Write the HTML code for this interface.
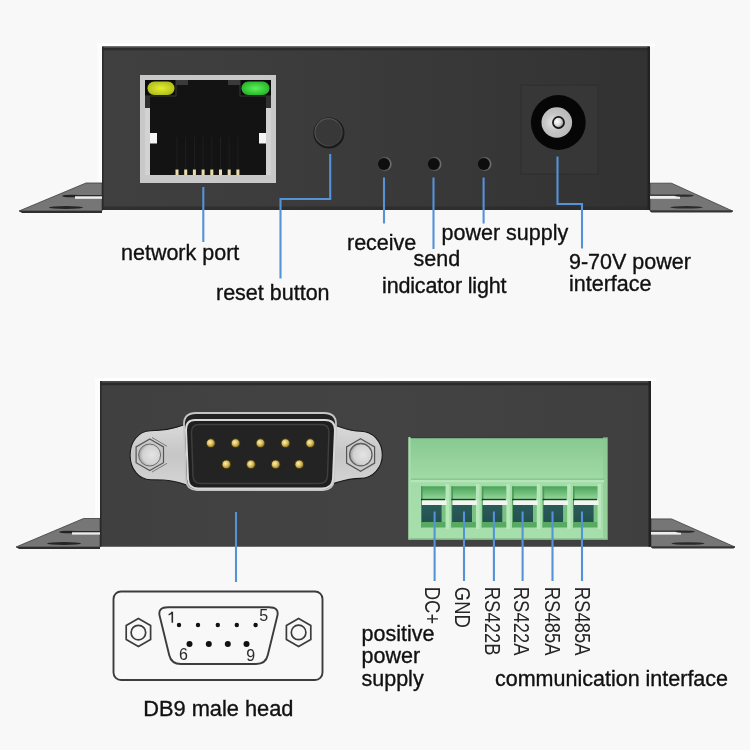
<!DOCTYPE html>
<html><head><meta charset="utf-8">
<style>
html,body{margin:0;padding:0;background:#f8f8f8;width:750px;height:750px;overflow:hidden}
svg{display:block;will-change:transform}
text{font-family:"Liberation Sans",sans-serif;fill:#111;font-size:21.5px;stroke:#111;stroke-width:0.35px}
</style></head><body>
<svg width="750" height="750" viewBox="0 0 750 750">
<defs>
<linearGradient id="boxg" x1="0" y1="0" x2="1" y2="0">
<stop offset="0" stop-color="#404040"/><stop offset="0.5" stop-color="#3a3a3a"/><stop offset="1" stop-color="#323232"/>
</linearGradient>
<linearGradient id="boxg2" x1="0" y1="0" x2="1" y2="0">
<stop offset="0" stop-color="#404040"/><stop offset="0.5" stop-color="#434343"/><stop offset="1" stop-color="#3f3f3f"/>
</linearGradient>
<radialGradient id="led-y" cx="0.5" cy="0.5" r="0.6">
<stop offset="0" stop-color="#e4ee30"/><stop offset="1" stop-color="#aab818"/>
</radialGradient>
<radialGradient id="led-g" cx="0.5" cy="0.5" r="0.6">
<stop offset="0" stop-color="#5ef05a"/><stop offset="1" stop-color="#1fae22"/>
</radialGradient>
<radialGradient id="pin" cx="0.4" cy="0.4" r="0.6">
<stop offset="0" stop-color="#fff2b8"/><stop offset="0.55" stop-color="#d8bb58"/><stop offset="1" stop-color="#8a7228"/>
</radialGradient>
<linearGradient id="silver" x1="0" y1="0" x2="0" y2="1">
<stop offset="0" stop-color="#dadada"/><stop offset="0.5" stop-color="#c6c6c6"/><stop offset="1" stop-color="#d4d4d4"/>
</linearGradient>
<linearGradient id="hole" x1="0" y1="0" x2="0" y2="1">
<stop offset="0" stop-color="#2a5c5a"/><stop offset="1" stop-color="#245050"/>
</linearGradient>
<linearGradient id="holetop" x1="0" y1="0" x2="0" y2="1">
<stop offset="0" stop-color="#4aa258"/><stop offset="1" stop-color="#92d699"/>
</linearGradient>
<linearGradient id="tbg" x1="0" y1="0" x2="0" y2="1">
<stop offset="0" stop-color="#87c891"/><stop offset="0.4" stop-color="#a0daa5"/><stop offset="0.41" stop-color="#a3dca8"/><stop offset="1" stop-color="#a6dfab"/>
</linearGradient>
<linearGradient id="btnrim" x1="0" y1="0" x2="1" y2="1">
<stop offset="0" stop-color="#5a5a5a"/><stop offset="1" stop-color="#3a3a3a"/>
</linearGradient>
<linearGradient id="holerim" x1="0" y1="0" x2="1" y2="0">
<stop offset="0" stop-color="#3a3a3a"/><stop offset="1" stop-color="#707070"/>
</linearGradient>
<radialGradient id="jackring" cx="0.4" cy="0.5" r="0.6">
<stop offset="0" stop-color="#e6e6e6"/><stop offset="0.5" stop-color="#c4c4c4"/><stop offset="1" stop-color="#b8b8b8"/>
</radialGradient>
<radialGradient id="jackpin" cx="0.35" cy="0.4" r="0.7">
<stop offset="0" stop-color="#ffffff"/><stop offset="0.6" stop-color="#d8d8d8"/><stop offset="1" stop-color="#8a8a8a"/>
</radialGradient>
<radialGradient id="nutc" cx="0.6" cy="0.5" r="0.6">
<stop offset="0" stop-color="#e4e4e4"/><stop offset="0.7" stop-color="#d2d2d2"/><stop offset="1" stop-color="#9a9a9a"/>
</radialGradient>
</defs>
<rect width="750" height="750" fill="#f8f8f8"/>

<!-- ===== TOP DEVICE ===== -->
<!-- left flange -->
<polygon points="86,183 102,183 102,211 19,211" fill="#767676" stroke="#3e3e3e" stroke-width="0.8" stroke-linejoin="round"/>
<path d="M19,211 L102,211 L102,213 L22,213 Z" fill="#2e2e2e"/>
<ellipse cx="72" cy="196" rx="10" ry="1.3" fill="#222"/>
<rect x="75" y="195.6" width="27" height="3.2" fill="#eeeeee"/>
<path d="M75,195 L102,195 L102,196.3 L75,196.3Z" fill="#2a2a2a"/>
<ellipse cx="66" cy="207.5" rx="17" ry="1.4" fill="#252525"/>
<!-- right flange -->
<polygon points="650,183.2 671.5,183.2 732.5,211 650,211" fill="#767676" stroke="#3e3e3e" stroke-width="0.8" stroke-linejoin="round"/>
<path d="M650,210.6 L733,210.6 Q733,212.6 730,212.6 L653,212.6 Q650,212.6 650,210 Z" fill="#333"/>
<rect x="650" y="195.6" width="30" height="3.2" fill="#eeeeee"/>
<path d="M650,194.6 L680,194.6 L680,195.8 L650,195.8Z" fill="#2a2a2a"/>
<ellipse cx="684" cy="195.6" rx="10" ry="1.2" fill="#2a2a2a"/>
<ellipse cx="686.5" cy="207.3" rx="16.5" ry="1.3" fill="#2a2a2a"/>
<!-- box -->
<rect x="97" y="43.5" width="558" height="3" fill="#ffffff" opacity="0.8"/>
<rect x="97" y="46.5" width="5" height="135" fill="#ffffff" opacity="0.6"/>
<rect x="102" y="46.5" width="548" height="163.5" rx="2" fill="url(#boxg)"/>
<rect x="102" y="206.5" width="548" height="3.5" rx="1.5" fill="#2c2c2c" opacity="0.8"/>
<rect x="102" y="46.5" width="548" height="1.6" rx="1" fill="#4a4a4a"/>
<rect x="102" y="48.1" width="548" height="2.2" fill="#2c2c2c"/>
<rect x="102" y="46.5" width="1.6" height="163.5" fill="#2a2a2a"/>
<rect x="647.5" y="46.5" width="2.5" height="163.5" fill="#222"/>

<!-- RJ45 -->
<rect x="140" y="75" width="136" height="108" fill="#c8c8c8"/>
<rect x="145" y="80" width="126" height="95" fill="#131313"/>
<rect x="145" y="80" width="31" height="16" fill="#0c0c0c"/>
<rect x="240" y="80" width="31" height="16" fill="#0c0c0c"/>
<path d="M145,96 L176,96 L176,80" stroke="#3a3a3a" stroke-width="1" fill="none"/>
<path d="M271,96 L240,96 L240,80" stroke="#3a3a3a" stroke-width="1" fill="none"/>
<rect x="176" y="80" width="12" height="5" fill="#3a3a3a"/>
<rect x="228" y="80" width="12" height="5" fill="#3a3a3a"/>
<rect x="145" y="96" width="5" height="12" fill="#303030"/>
<rect x="266" y="96" width="5" height="12" fill="#303030"/>
<rect x="145" y="108" width="5" height="67" fill="#d2d2d2"/>
<rect x="266" y="108" width="5" height="67" fill="#d2d2d2"/>
<rect x="150" y="133" width="7" height="10.5" fill="#f4f4f4"/>
<rect x="259" y="133" width="7" height="10.5" fill="#f4f4f4"/>
<rect x="147.5" y="81.5" width="27" height="13.5" rx="6.7" fill="url(#led-y)"/>
<rect x="241.5" y="81.5" width="28" height="13.5" rx="6.7" fill="url(#led-g)"/>
<g stroke="#1f1f1f" stroke-width="1">
<line x1="177" y1="137" x2="177" y2="169"/><line x1="185.7" y1="137" x2="185.7" y2="169"/>
<line x1="194.4" y1="137" x2="194.4" y2="169"/><line x1="203.1" y1="137" x2="203.1" y2="169"/>
<line x1="211.8" y1="137" x2="211.8" y2="169"/><line x1="220.5" y1="137" x2="220.5" y2="169"/>
<line x1="229.2" y1="137" x2="229.2" y2="169"/><line x1="237.9" y1="137" x2="237.9" y2="169"/>
</g>
<g fill="#e9dcae">
<rect x="175.5" y="169.5" width="3" height="5.5"/><rect x="184.2" y="169.5" width="3" height="5.5"/>
<rect x="192.9" y="169.5" width="3" height="5.5"/><rect x="201.6" y="169.5" width="3" height="5.5"/>
<rect x="210.3" y="169.5" width="3" height="5.5"/><rect x="219" y="169.5" width="3" height="5.5"/>
<rect x="227.7" y="169.5" width="3" height="5.5"/><rect x="236.4" y="169.5" width="3" height="5.5"/>
</g>

<!-- reset button -->
<circle cx="328.9" cy="133" r="15.6" fill="#1a1a1a"/>
<circle cx="328.5" cy="132.3" r="13.6" fill="#383838" stroke="url(#btnrim)" stroke-width="1.2"/>
<!-- LED holes -->
<g>
<circle cx="384.5" cy="164" r="7.2" fill="url(#holerim)"/><circle cx="384" cy="164" r="6" fill="#0e0e0e"/>
<circle cx="434.3" cy="164" r="7.2" fill="url(#holerim)"/><circle cx="433.8" cy="164" r="6" fill="#0e0e0e"/>
<circle cx="484.3" cy="164" r="7.2" fill="url(#holerim)"/><circle cx="483.8" cy="164" r="6" fill="#0e0e0e"/>
</g>
<!-- power jack -->
<rect x="521" y="85.3" width="77" height="88.7" fill="#373737" stroke="#303030" stroke-width="1.2"/>
<circle cx="558.3" cy="122.5" r="27.4" fill="#060606"/>
<circle cx="556.8" cy="122.5" r="15.3" fill="url(#jackring)"/>
<circle cx="558.5" cy="122.5" r="6.4" fill="#151515"/>
<circle cx="558.5" cy="122.5" r="4.7" fill="url(#jackpin)"/>

<!-- ===== BOTTOM DEVICE ===== -->
<polygon points="83.5,518.5 100,518.5 100,547 16,547" fill="#767676" stroke="#3e3e3e" stroke-width="0.8" stroke-linejoin="round"/>
<path d="M16,547 L100,547 L100,549 L19,549 Z" fill="#2e2e2e"/>
<ellipse cx="69" cy="532" rx="10" ry="1.3" fill="#222"/>
<rect x="72" y="531.4" width="28" height="3.2" fill="#eeeeee"/>
<path d="M72,531 L100,531 L100,532.3 L72,532.3Z" fill="#2a2a2a"/>
<ellipse cx="64" cy="543.5" rx="17" ry="1.4" fill="#252525"/>
<polygon points="651,518.9 671.5,518.9 735,547 651,547" fill="#767676" stroke="#3e3e3e" stroke-width="0.8" stroke-linejoin="round"/>
<path d="M651,546.6 L735,546.6 Q735,548.6 732,548.6 L654,548.6 Q651,548.6 651,546 Z" fill="#333"/>
<rect x="651" y="531.4" width="30" height="3.2" fill="#eeeeee"/>
<path d="M651,530.6 L681,530.6 L681,531.8 L651,531.8Z" fill="#2a2a2a"/>
<ellipse cx="685" cy="531.6" rx="10" ry="1.2" fill="#2a2a2a"/>
<ellipse cx="688" cy="543.5" rx="16.5" ry="1.3" fill="#2a2a2a"/>
<rect x="95" y="378" width="561" height="3" fill="#ffffff" opacity="0.8"/>
<rect x="95" y="381" width="5" height="136" fill="#ffffff" opacity="0.6"/>
<rect x="100" y="381" width="551" height="165.8" rx="2" fill="url(#boxg2)"/>
<rect x="100" y="381" width="551" height="1.8" rx="1" fill="#4a4a4a"/>
<rect x="100" y="382.8" width="551" height="2.4" fill="#2a2a2a"/>
<rect x="100" y="381" width="1.6" height="165.8" fill="#2a2a2a"/>
<rect x="648.5" y="381" width="2.5" height="165.8" fill="#222"/>

<!-- DB9 connector -->
<path d="M188,423.5 C179,426 173,430.7 150.5,430.7 C138.5,430.7 130.1,442 130.1,455.2 C130.1,468.4 138.5,479.8 150.5,479.8 C173,479.8 179,482.5 188,485.5 Z" fill="url(#silver)" stroke="#1a1a1a" stroke-width="1.1"/>
<path d="M332,424.5 C342,427 348,431.2 360.5,431.2 C373,431.2 382.3,442 382.3,454.8 C382.3,467.6 373,478.4 360.5,478.4 C348,478.4 342,481 332,484 Z" fill="url(#silver)" stroke="#1a1a1a" stroke-width="1.1"/>
<path d="M152,437.5 L167,446.3 M152,472 L167,463.3" stroke="#7a7a7a" stroke-width="1"/>
<polygon points="149.8,439.0 163.5,446.9 163.5,462.7 149.8,470.6 136.1,462.7 136.1,446.9" fill="#c8c8c8" stroke="#555" stroke-width="1.2"/>
<circle cx="149.6" cy="455" r="11" fill="url(#nutc)" stroke="#6a6a6a" stroke-width="1"/>
<polygon points="360.6,438.8 374.6,446.9 374.6,463.1 360.6,471.2 346.6,463.1 346.6,446.9" fill="#cacaca" stroke="#555" stroke-width="1.2"/>
<circle cx="360.8" cy="454.7" r="11.2" fill="url(#nutc)" stroke="#5e5e5e" stroke-width="1.3"/>
<path d="M196,413 L324,413 Q336,413 336,424 L334,480 Q333,490 323,490 L197,490 Q187,490 186,480 L184,424 Q184,413 196,413 Z" fill="#222" stroke="#c4c4c4" stroke-width="1.8"/>
<path d="M195,420 L325,420 Q335,420 335,430 L333,479 Q332,488.5 322,488.5 L198,488.5 Q188.5,488.5 188,479 L186,430 Q186,420 195,420 Z" fill="#1e1e1e" stroke="#d8d8d8" stroke-width="2"/>
<path d="M199,424.5 L321,424.5 Q329,424.5 329,432 L327.5,476 Q327,483.5 319,483.5 L201,483.5 Q193.5,483.5 193,476 L191.5,432 Q191.5,424.5 199,424.5 Z" fill="#232323" stroke="#3e3e3e" stroke-width="1.5"/>
<g fill="url(#pin)" stroke="#3a300c" stroke-width="0.8">
<circle cx="210.8" cy="443.2" r="4.4"/><circle cx="235.6" cy="443.2" r="4.4"/><circle cx="260.5" cy="443.2" r="4.4"/><circle cx="285.5" cy="443.2" r="4.4"/><circle cx="310.3" cy="443.2" r="4.4"/>
<circle cx="226.4" cy="464.4" r="4.4"/><circle cx="251" cy="464.4" r="4.4"/><circle cx="275.7" cy="464.4" r="4.4"/><circle cx="299.3" cy="464.4" r="4.4"/>
</g>

<!-- terminal block -->
<rect x="408.5" y="437" width="199" height="102.5" fill="url(#tbg)"/>
<rect x="408.5" y="437" width="199" height="1.2" fill="#2a3d55"/>
<rect x="408.5" y="437" width="2" height="102.5" fill="#a9dfae"/>
<rect x="603" y="437" width="4.5" height="102.5" fill="#8cc892" opacity="0.6"/>
<rect x="411" y="478.6" width="193" height="1.2" fill="#7fb885"/>
<rect x="411" y="479.8" width="193" height="2.5" fill="#b4e6b8"/>
<rect x="408.5" y="538" width="199" height="1.5" fill="#8cc592"/>
<rect x="445.5" y="484" width="3.5" height="45" fill="#b6e8b9"/>
<rect x="421" y="486.3" width="24.5" height="12.6" fill="url(#holetop)"/>
<rect x="421" y="486.3" width="1.6" height="41" fill="#4a9a56"/>
<rect x="421" y="498.8" width="24" height="1.6" fill="#1d3d30"/>
<rect x="421.8" y="505" width="20" height="17" fill="url(#hole)"/>
<rect x="441.8" y="505" width="3.7" height="17" fill="#78c281"/>
<rect x="421" y="522" width="24.5" height="5.5" fill="#58aa63"/>
<rect x="422" y="500.4" width="24.5" height="4.6" fill="#f1f6f1"/>
<rect x="475.9" y="484" width="3.5" height="45" fill="#b6e8b9"/>
<rect x="451.4" y="486.3" width="24.5" height="12.6" fill="url(#holetop)"/>
<rect x="451.4" y="486.3" width="1.6" height="41" fill="#4a9a56"/>
<rect x="451.4" y="498.8" width="24" height="1.6" fill="#1d3d30"/>
<rect x="452.2" y="505" width="20" height="17" fill="url(#hole)"/>
<rect x="472.2" y="505" width="3.7" height="17" fill="#78c281"/>
<rect x="451.4" y="522" width="24.5" height="5.5" fill="#58aa63"/>
<rect x="452.4" y="500.4" width="24.5" height="4.6" fill="#f1f6f1"/>
<rect x="506.3" y="484" width="3.5" height="45" fill="#b6e8b9"/>
<rect x="481.8" y="486.3" width="24.5" height="12.6" fill="url(#holetop)"/>
<rect x="481.8" y="486.3" width="1.6" height="41" fill="#4a9a56"/>
<rect x="481.8" y="498.8" width="24" height="1.6" fill="#1d3d30"/>
<rect x="482.6" y="505" width="20" height="17" fill="url(#hole)"/>
<rect x="502.6" y="505" width="3.7" height="17" fill="#78c281"/>
<rect x="481.8" y="522" width="24.5" height="5.5" fill="#58aa63"/>
<rect x="482.8" y="500.4" width="24.5" height="4.6" fill="#f1f6f1"/>
<rect x="536.7" y="484" width="3.5" height="45" fill="#b6e8b9"/>
<rect x="512.2" y="486.3" width="24.5" height="12.6" fill="url(#holetop)"/>
<rect x="512.2" y="486.3" width="1.6" height="41" fill="#4a9a56"/>
<rect x="512.2" y="498.8" width="24" height="1.6" fill="#1d3d30"/>
<rect x="513.0" y="505" width="20" height="17" fill="url(#hole)"/>
<rect x="533.0" y="505" width="3.7" height="17" fill="#78c281"/>
<rect x="512.2" y="522" width="24.5" height="5.5" fill="#58aa63"/>
<rect x="513.2" y="500.4" width="24.5" height="4.6" fill="#f1f6f1"/>
<rect x="567.1" y="484" width="3.5" height="45" fill="#b6e8b9"/>
<rect x="542.6" y="486.3" width="24.5" height="12.6" fill="url(#holetop)"/>
<rect x="542.6" y="486.3" width="1.6" height="41" fill="#4a9a56"/>
<rect x="542.6" y="498.8" width="24" height="1.6" fill="#1d3d30"/>
<rect x="543.4" y="505" width="20" height="17" fill="url(#hole)"/>
<rect x="563.4" y="505" width="3.7" height="17" fill="#78c281"/>
<rect x="542.6" y="522" width="24.5" height="5.5" fill="#58aa63"/>
<rect x="543.6" y="500.4" width="24.5" height="4.6" fill="#f1f6f1"/>
<rect x="597.5" y="484" width="3.5" height="45" fill="#b6e8b9"/>
<rect x="573" y="486.3" width="24.5" height="12.6" fill="url(#holetop)"/>
<rect x="573" y="486.3" width="1.6" height="41" fill="#4a9a56"/>
<rect x="573" y="498.8" width="24" height="1.6" fill="#1d3d30"/>
<rect x="573.8" y="505" width="20" height="17" fill="url(#hole)"/>
<rect x="593.8" y="505" width="3.7" height="17" fill="#78c281"/>
<rect x="573" y="522" width="24.5" height="5.5" fill="#58aa63"/>
<rect x="574" y="500.4" width="24.5" height="4.6" fill="#f1f6f1"/>
<!-- ===== BLUE CALLOUT LINES ===== -->
<g stroke="#5592d8" stroke-width="2.1" fill="none">
<path d="M203.3,187 V242"/>
<path d="M330.2,154 V199 H280.5 V278.5"/>
<path d="M384,177.5 V223.5"/>
<path d="M433.5,177.5 V249"/>
<path d="M483.6,177.5 V223.5"/>
<path d="M557.5,156.5 V204 H582 V248.5"/>
<path d="M236,512 V582"/>
<path d="M434.6,511.5 V581"/>
<path d="M464,511.5 V581"/>
<path d="M493.9,511.5 V581"/>
<path d="M522.6,511.5 V581"/>
<path d="M552.5,511.5 V581"/>
<path d="M582,511.5 V581"/>
</g>

<!-- ===== LABELS ===== -->
<text x="121" y="259.5">network port</text>
<text x="216" y="299.5">reset button</text>
<text x="347" y="249.5">receive</text>
<text x="413.5" y="266.3">send</text>
<text x="441.5" y="239.5">power supply</text>
<text x="382" y="293" style="letter-spacing:-0.15px">indicator light</text>
<text x="569" y="269">9-70V power</text>
<text x="569" y="291">interface</text>

<text x="361.5" y="641">positive</text>
<text x="361.5" y="663.3">power</text>
<text x="361.5" y="685.5">supply</text>
<text x="495" y="685.5">communication interface</text>
<text x="143.2" y="716" style="font-size:21.8px">DB9 male head</text>

<!-- DB9 diagram -->
<rect x="113.5" y="591.5" width="209" height="88.5" rx="7.5" fill="none" stroke="#3c3c3c" stroke-width="1.9"/>
<path d="M168,607.3 L269,607.3 Q279.5,607.3 277.3,616 L267.8,655 Q265.8,664 256,664 L181,664 Q171.2,664 169.2,655 L159.7,616 Q157.5,607.3 168,607.3 Z" fill="none" stroke="#3c3c3c" stroke-width="1.9"/>
<polygon points="138.4,618.6 150.6,625.6 150.6,639.6 138.4,646.6 126.2,639.6 126.2,625.6" fill="none" stroke="#3c3c3c" stroke-width="1.7"/>
<circle cx="138.4" cy="632.6" r="7.3" fill="none" stroke="#3c3c3c" stroke-width="1.7"/>
<polygon points="298.6,618.4 310.8,625.4 310.8,639.4 298.6,646.4 286.4,639.4 286.4,625.4" fill="none" stroke="#3c3c3c" stroke-width="1.7"/>
<circle cx="298.6" cy="632.4" r="7.3" fill="none" stroke="#3c3c3c" stroke-width="1.7"/>
<g fill="#111">
<circle cx="179" cy="625" r="2.2"/><circle cx="198" cy="625" r="2.2"/><circle cx="217.8" cy="625" r="2.2"/><circle cx="236.8" cy="625" r="2.2"/><circle cx="255.6" cy="625" r="2.2"/>
<circle cx="189.5" cy="644" r="3"/><circle cx="208.8" cy="644" r="3"/><circle cx="227.8" cy="644" r="3"/><circle cx="246.5" cy="644" r="3"/>
</g>
<path d="M172.3,611.8 V622.8 M172.3,611.8 Q171,614.2 168.6,614.8" fill="none" stroke="#2a2a2a" stroke-width="1.6"/>
<text x="259.2" y="621.4" style="font-size:16px;stroke-width:0;fill:#2a2a2a">5</text>
<text x="178.9" y="659.9" style="font-size:16px;stroke-width:0;fill:#2a2a2a">6</text>
<text x="246.2" y="660.5" style="font-size:16px;stroke-width:0;fill:#2a2a2a">9</text>

<!-- vertical labels -->
<g>
<text style="stroke-width:0;font-size:22.5px;fill:#262626" transform="translate(425.2,586.8) rotate(90) scale(0.82,1)">DC+</text>
<text style="stroke-width:0;font-size:22.5px;fill:#262626" transform="translate(454.6,586.8) rotate(90) scale(0.82,1)">GND</text>
<text style="stroke-width:0;font-size:22.5px;fill:#262626" transform="translate(484.8,586.8) rotate(90) scale(0.82,1)">RS422B</text>
<text style="stroke-width:0;font-size:22.5px;fill:#262626" transform="translate(514.4,586.8) rotate(90) scale(0.82,1)">RS422A</text>
<text style="stroke-width:0;font-size:22.5px;fill:#262626" transform="translate(545.4,586.8) rotate(90) scale(0.82,1)">RS485A</text>
<text style="stroke-width:0;font-size:22.5px;fill:#262626" transform="translate(575.2,586.8) rotate(90) scale(0.82,1)">RS485A</text>
</g>
</svg>
</body></html>
